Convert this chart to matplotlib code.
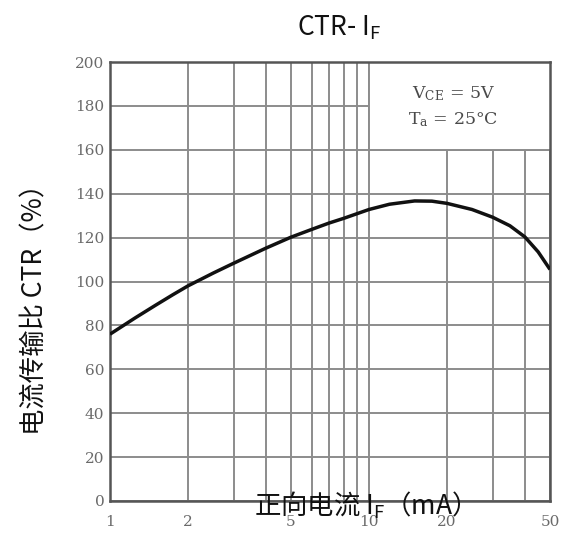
import matplotlib
matplotlib.use("Agg")
import matplotlib.pyplot as plt
from matplotlib.patches import Rectangle

plt.rcParams['font.family'] = ['Noto Sans CJK SC', 'DejaVu Sans']
plt.rcParams['mathtext.fontset'] = 'custom'
plt.rcParams['mathtext.rm'] = 'Noto Sans CJK SC'
plt.rcParams['mathtext.it'] = 'Noto Sans CJK SC'

# 曲线数据 (IF mA, CTR %)
if_ma = [1, 1.25, 1.5, 1.75, 2, 2.5, 3, 4, 5, 6, 7, 8, 10, 12, 15, 17.5, 20, 25, 30,
         35, 40, 45, 50]
ctr = [76, 83.4, 89.2, 94, 98, 103.8, 108.3, 115.2, 120.2, 123.7, 126.6, 128.8, 132.8,
       135.2, 136.7, 136.6, 135.6, 132.8, 129.3, 125.4, 120.3, 113.5, 105.5]

x_grid = [1, 2, 3, 4, 5, 6, 7, 8, 9, 10, 20, 30, 40, 50]
x_ticks = [1, 2, 5, 10, 20, 50]
y_ticks = list(range(0, 201, 20))

fig = plt.figure(figsize=(5.73, 5.34), dpi=100)
ax = fig.add_axes([110/573, 1-501/534, 440/573, 439/534])
ax.set_xscale('log')
ax.set_xlim(1, 50)
ax.set_ylim(0, 200)

gc = '#8c8c8c'
for x in x_grid:
    ax.axvline(x, color=gc, lw=1.4, zorder=0.5)
for y in y_ticks:
    ax.axhline(y, color=gc, lw=1.4, zorder=0.5)
# 条件框: 遮住右上角网格
ax.add_patch(Rectangle((10, 160), 40, 40, facecolor='white', edgecolor='none', zorder=1))
ax.plot([10, 10], [160, 200], color=gc, lw=1.4, zorder=1.1)
ax.plot([10, 50], [160, 160], color=gc, lw=1.4, zorder=1.1)

ax.plot(if_ma, ctr, color='#111111', lw=2.5, zorder=3, solid_capstyle='butt',
        solid_joinstyle='round')

for s in ax.spines.values():
    s.set_color('#555555')
    s.set_linewidth(1.8)

ax.set_xticks(x_ticks)
ax.set_xticklabels([str(v) for v in x_ticks])
ax.xaxis.set_minor_locator(matplotlib.ticker.NullLocator())
ax.set_yticks(y_ticks)
ax.tick_params(length=0, labelsize=11, labelcolor='#6a6a6a')
ax.tick_params(axis='x', pad=10)
ax.tick_params(axis='y', pad=4)
for lab in ax.get_xticklabels() + ax.get_yticklabels():
    lab.set_family(['DejaVu Serif'])

ax.text(0.78, 0.929, r'$\mathrm{V_{CE}}$ = 5V', transform=ax.transAxes, ha='center',
        va='center', fontsize=12.5, color='#4a4a4a', family='DejaVu Serif',
        math_fontfamily='dejavuserif')
ax.text(0.78, 0.868, r'$\mathrm{T_{a}}$ = 25°C', transform=ax.transAxes, ha='center',
        va='center', fontsize=12.5, color='#4a4a4a', family='DejaVu Serif',
        math_fontfamily='dejavuserif')

fig.text(339/573, 1-28/534, r'CTR- I$_\mathrm{F}$', ha='center', va='center',
         fontsize=19, color='#111111')
fig.text(35/573, 1-303/534, '电流传输比 CTR（%）', rotation=90, ha='center',
         va='center', fontsize=19, color='#111111')
fig.text(358/573, 1-505/534, r'正向电流 I$_\mathrm{F}$（mA）', ha='center', va='center',
         fontsize=19, color='#111111')

fig.savefig('out.png', dpi=100)
